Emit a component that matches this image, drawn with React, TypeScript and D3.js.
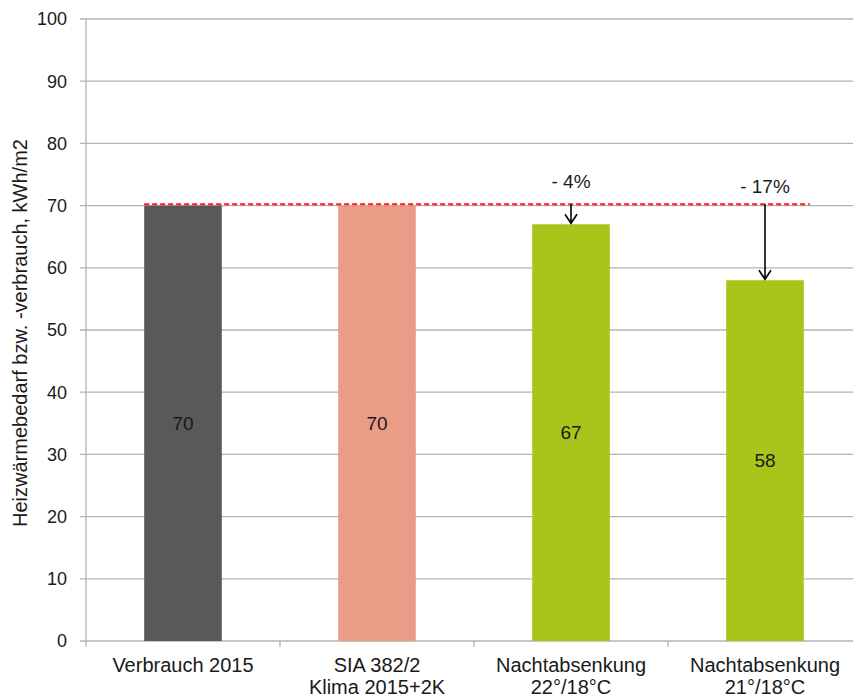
import React from "react";
import * as d3 from "d3";

const categories = [
  ["Verbrauch 2015"],
  ["SIA 382/2", "Klima 2015+2K"],
  ["Nachtabsenkung", "22°/18°C"],
  ["Nachtabsenkung", "21°/18°C"],
];
const values = [70, 70, 67, 58];
const barColors = ["#595959", "#eb9c87", "#a9c41b", "#a9c41b"];
const reductions = [null, null, "- 4%", "- 17%"];
const referenceValue = 70.2;
const yTicks = [0, 10, 20, 30, 40, 50, 60, 70, 80, 90, 100];
const yTitle = "Heizwärmebedarf bzw. -verbrauch, kWh/m2";

const W = 853, H = 698;
const margin = { top: 19, right: -9, bottom: 57, left: 86 };
const font = "'Liberation Sans', Arial, sans-serif";

export default function App() {
  const x = d3.scaleBand<number>()
    .domain(d3.range(categories.length))
    .range([margin.left, W - margin.right])
    .paddingInner(0.6)
    .paddingOuter(0.3);
  const step = x.step();
  const y = d3.scaleLinear().domain([0, 100]).range([H - margin.bottom, margin.top]);
  const y0 = y(0);
  const refY = y(referenceValue);

  return (
    <svg width={W} height={H} style={{ position: "absolute", left: 0, top: 0, fontFamily: font }}>
      <rect width={W} height={H} fill="#fff" />
      {/* grid */}
      {yTicks.map(t => (
        <g key={t}>
          <line x1={margin.left - 6} x2={W} y1={y(t)} y2={y(t)} stroke="#b3b3b3" strokeWidth={1.3} />
          <text x={margin.left - 19} y={y(t)} dy="0.35em" textAnchor="end" fontSize={18} fill="#1a1a1a">{t}</text>
        </g>
      ))}
      <line x1={margin.left} x2={margin.left} y1={margin.top} y2={y0} stroke="#b3b3b3" strokeWidth={1.3} />
      {/* category ticks */}
      {d3.range(categories.length + 1).map(i => (
        <line key={i} x1={margin.left + i * step} x2={margin.left + i * step} y1={y0} y2={y0 + 6} stroke="#b3b3b3" strokeWidth={1.3} />
      ))}
      {/* bars */}
      {values.map((v, i) => (
        <g key={i}>
          <rect x={x(i)!} y={y(v)} width={x.bandwidth()} height={y0 - y(v)} fill={barColors[i]} />
          <text x={x(i)! + x.bandwidth() / 2} y={y(v / 2)} dy="0.35em" textAnchor="middle" fontSize={19} fill="#1a1a1a">{v}</text>
        </g>
      ))}
      {/* category labels */}
      {categories.map((lines, i) => (
        <text key={i} x={margin.left + (i + 0.5) * step} y={y0 + 31} textAnchor="middle" fontSize={20} fill="#1a1a1a">
          {lines.map((l, j) => (
            <tspan key={j} x={margin.left + (i + 0.5) * step} dy={j === 0 ? 0 : 21.5}>{l}</tspan>
          ))}
        </text>
      ))}
      {/* reference line */}
      <line x1={x(0)!} x2={x(categories.length - 1)! + x.bandwidth() + 6} y1={refY} y2={refY}
        stroke="#ff1a1a" strokeWidth={2} strokeDasharray="5,3" />
      {/* reduction arrows */}
      {reductions.map((r, i) => {
        if (!r) return null;
        const cx = x(i)! + x.bandwidth() / 2;
        const tip = y(values[i]) - 1;
        return (
          <g key={i}>
            <line x1={cx} x2={cx} y1={refY} y2={tip} stroke="#000" strokeWidth={1.6} />
            <path d={`M${cx - 6},${tip - 9} L${cx},${tip} L${cx + 6},${tip - 9}`} fill="none" stroke="#000" strokeWidth={1.6} />
            <text x={cx} y={refY - (i === 2 ? 16 : 11)} textAnchor="middle" fontSize={19} fill="#1a1a1a">{r}</text>
          </g>
        );
      })}
      {/* y title */}
      <text transform={`translate(27,333) rotate(-90)`} textAnchor="middle" fontSize={20} fill="#1a1a1a">{yTitle}</text>
    </svg>
  );
}
